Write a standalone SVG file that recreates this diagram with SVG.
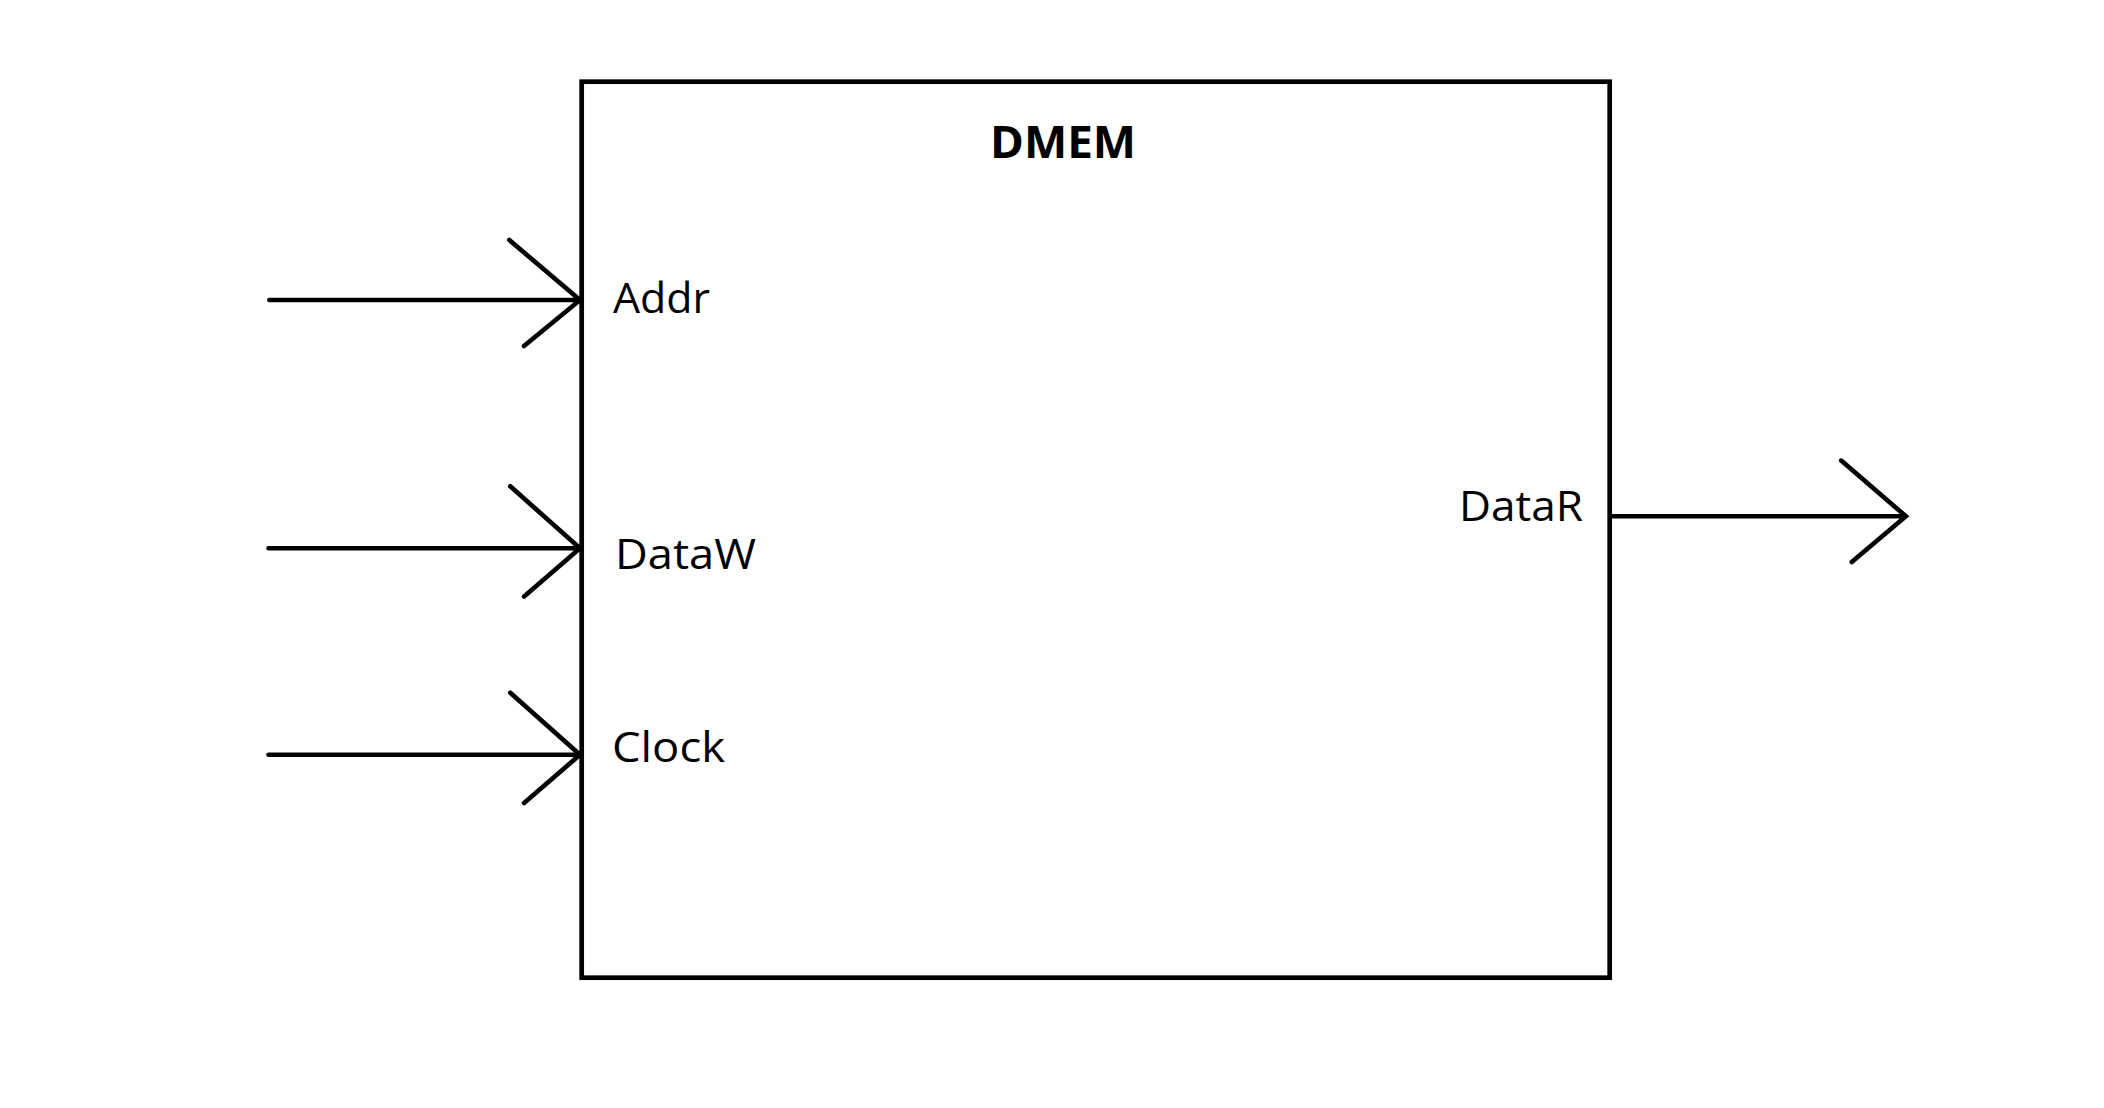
<svg xmlns="http://www.w3.org/2000/svg" width="2104" height="1108" viewBox="0 0 2104 1108">
<style>
.ln{stroke:#000;stroke-width:4.6;fill:none;stroke-linecap:round;stroke-linejoin:miter}
.box{stroke:#000;stroke-width:4.7;fill:#fff}
.lbl{font-family:"Open Sans","Liberation Sans",sans-serif;font-size:42px;fill:#000}
.ttl{font-family:"Open Sans","Liberation Sans",sans-serif;font-size:45px;font-weight:bold;fill:#000}
</style>
<rect width="2104" height="1108" fill="#fff"/>
<g id="dmem">
<rect class="box" x="581.7" y="81.7" width="1028" height="896"/>
<text class="ttl" x="990" y="158" textLength="146" lengthAdjust="spacingAndGlyphs">DMEM</text>
<text class="lbl" x="613" y="313" textLength="97" lengthAdjust="spacingAndGlyphs">Addr</text>
<text class="lbl" x="615" y="569" textLength="141" lengthAdjust="spacingAndGlyphs">DataW</text>
<text class="lbl" x="612" y="762" textLength="113" lengthAdjust="spacingAndGlyphs">Clock</text>
<text class="lbl" x="1459" y="521" textLength="124" lengthAdjust="spacingAndGlyphs">DataR</text>
</g>
<g id="connectors">
<path class="ln" d="M269.3 300H580M509.3 240L580 300L524 346"/>
<path class="ln" d="M268.5 548.3H580M510.3 486.3L580 548.3L524.1 596.5"/>
<path class="ln" d="M268.5 754.7H580M510.3 692.8L580 754.7L524.1 803"/>
<path class="ln" d="M1612 516.3H1905.9M1841.2 460.6L1905.9 516.3L1851.8 562"/>
</g>
</svg>
